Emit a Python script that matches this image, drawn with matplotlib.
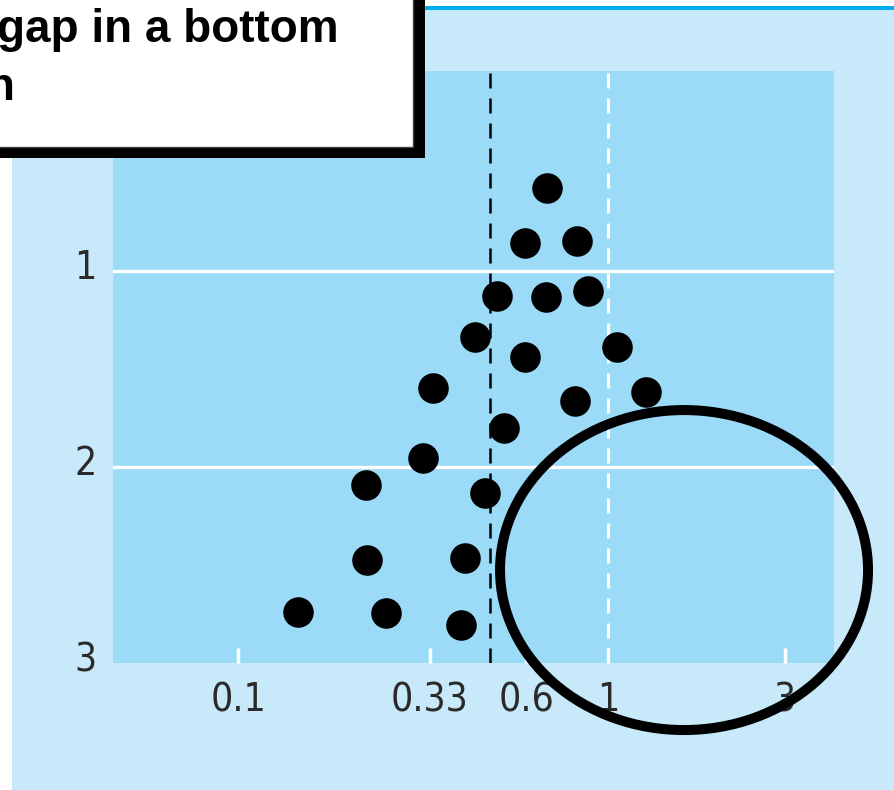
#!/usr/bin/env python3
"""Funnel plot with a gap in the bottom right corner"""

import matplotlib
matplotlib.use("Agg")
import matplotlib.pyplot as plt
from matplotlib import font_manager
from matplotlib.patches import Rectangle, Ellipse
from matplotlib.lines import Line2D
from matplotlib.transforms import ScaledTranslation

# study estimates (odds ratio) and their standard errors
odds_ratio = [0.683, 0.597, 0.823, 0.500, 0.680, 0.885, 0.437, 0.597, 1.056,
              0.337, 0.814, 1.264, 0.524, 0.317, 0.221, 0.465, 0.223, 0.411,
              0.145, 0.251, 0.400]
std_error = [0.578, 0.856, 0.847, 1.128, 1.131, 1.102, 1.335, 1.440, 1.386,
             1.598, 1.663, 1.619, 1.800, 1.956, 2.092, 2.134, 2.474, 2.466,
             2.738, 2.746, 2.806]
pooled = 0.48
no_effect = 1
x_ticks = [0.1, 0.33, 0.6, 1, 3]
x_labels = ["0.1", "0.33", "0.6", "1", "3"]
y_ticks = [1, 2, 3]
caption = "gap in a bottom"
caption_tail = "n"

W, H = 894, 790
PANEL = "#C7E9FA"
PLOT_BG = "#9CDBF7"

# narrow face for the tick labels if one is around
names = {f.name for f in font_manager.fontManager.ttflist}
narrow = [n for n in ["Liberation Sans Narrow", "DejaVu Sans Condensed"] if n in names]
TICK_FONT = narrow + ["DejaVu Sans"]

plt.rcParams["lines.scale_dashes"] = False

fig = plt.figure(figsize=(W / 100, H / 100), dpi=100, facecolor="white")

# light blue panel and blue rule on top
fig.patches.append(Rectangle((12 / W, 0), 1, 1 - 10 / H, transform=fig.transFigure,
                             facecolor=PANEL, edgecolor="none", zorder=-10))
fig.lines.append(Line2D([12 / W, 1], [1 - 8 / H] * 2, transform=fig.transFigure,
                        color="#00AEEF", linewidth=2.9, zorder=-9))

ax = fig.add_axes([113 / W, 127 / H, 721 / W, 592 / H])
ax.set_facecolor(PLOT_BG)
ax.set_xscale("log")
ax.set_xlim(0.0459, 4.08)
ax.set_ylim(3, -0.02)
for s in ax.spines.values():
    s.set_visible(False)

for yv in [1, 2]:
    ax.axhline(yv, color="white", linewidth=2.4, zorder=1)
ax.axvline(pooled, color="black", linewidth=1.8, dashes=(10.8, 7.2), zorder=2)
ax.axvline(no_effect, color="white", linewidth=2.2, dashes=(10.8, 7.2), zorder=2)

ax.plot(odds_ratio, std_error, "o", color="black", markersize=22,
        markeredgewidth=0, zorder=3)

ax.set_xticks(x_ticks)
ax.set_xticklabels(x_labels)
ax.minorticks_off()
ax.tick_params(axis="x", direction="in", length=11, width=2.4, color="white",
               pad=13, labelsize=28, labelcolor="#2a2a2a")
ax.set_yticks(y_ticks)
ax.tick_params(axis="y", length=0, pad=12, labelsize=28, labelcolor="#2a2a2a")
for lab in ax.get_xticklabels() + ax.get_yticklabels():
    lab.set_family(TICK_FONT)
    lab.set_fontstretch("condensed")
    lab.set_fontweight("light")
for lab in ax.get_yticklabels():
    lab.set_transform(lab.get_transform() + ScaledTranslation(0, 7 / 100, fig.dpi_scale_trans))

# ring around the empty corner
ax.add_patch(Ellipse((0.792, 0.157), 0.5104, 0.5405, transform=ax.transAxes,
                     fill=False, edgecolor="black", linewidth=7.2,
                     clip_on=False, zorder=5))

# caption box with shadow, cut by the top left edge
fig.patches.append(Rectangle((-20 / W, 1 - 158 / H), 445 / W, 178 / H,
                             transform=fig.transFigure, facecolor="black",
                             edgecolor="none", zorder=10))
fig.patches.append(Rectangle((-20 / W, 1 - 147 / H), 433 / W, 167 / H,
                             transform=fig.transFigure, facecolor="white",
                             edgecolor="#444444", linewidth=1, zorder=11))
fig.text(-3 / W, 1 - 42 / H, caption, fontsize=33, fontweight="bold",
         family=["Liberation Sans", "DejaVu Sans"], va="baseline", ha="left",
         zorder=12)
fig.text(15 / W, 1 - 100 / H, caption_tail, fontsize=33, fontweight="bold",
         family=["Liberation Sans", "DejaVu Sans"], va="baseline", ha="right",
         zorder=12)

plt.savefig("out.png", dpi=100)
